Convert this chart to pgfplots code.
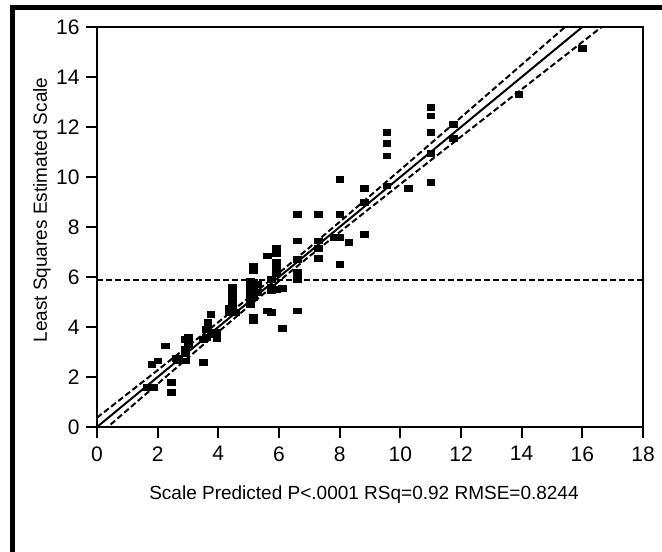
\documentclass[border=0pt]{standalone}
\usepackage{pgfplots}
\pgfplotsset{compat=1.18}
\usepackage{fontspec}
\setmainfont{Liberation Sans}

% Leverage plot: actual vs predicted scale, with fit line, 95% band and mean line
\pgfplotstableread{
x y
1.65 1.6
1.85 1.6
1.8 2.5
2.0 2.65
2.25 3.25
2.45 1.8
2.45 1.4
2.6 2.75
2.65 2.65
2.9 2.65
2.9 2.95
2.9 3.1
2.9 3.5
3.0 3.6
3.0 3.3
3.5 2.6
3.5 3.5
3.6 3.6
3.6 3.9
3.65 4.2
3.75 4.5
3.75 3.8
3.75 3.7
3.95 3.55
3.95 3.8
4.35 4.75
4.35 4.6
4.45 5.6
4.45 5.4
4.45 5.2
4.45 5.0
4.45 4.7
4.55 4.6
5.05 5.85
5.05 5.6
5.05 5.3
5.05 5.1
5.05 4.9
5.15 6.45
5.15 6.25
5.15 5.8
5.15 5.5
5.15 5.2
5.15 4.4
5.15 4.25
5.3 5.4
5.3 5.7
5.6 4.65
5.6 6.85
5.75 4.6
5.75 5.9
5.75 5.6
5.75 5.45
5.9 7.15
5.9 6.95
5.9 6.6
5.9 6.35
5.9 6.15
5.9 5.5
6.1 3.95
6.1 5.55
6.6 8.5
6.6 7.45
6.6 6.7
6.6 6.2
6.6 5.9
6.6 4.65
7.3 8.5
7.3 7.45
7.3 7.15
7.3 6.75
7.8 7.6
8.0 9.9
8.0 8.5
8.0 7.6
8.0 6.5
8.3 7.4
8.8 9.55
8.8 9.0
8.8 7.7
9.55 11.8
9.55 11.35
9.55 10.85
9.55 9.65
10.25 9.55
11.0 12.8
11.0 12.45
11.0 11.8
11.0 10.95
11.0 9.8
11.75 12.1
11.75 11.55
13.9 13.3
16.0 15.15
}\scaledata

\pgfplotstableread{
x upper lower
0 0.372 -0.372
1 1.322 0.678
2 2.274 1.726
3 3.231 2.769
4 4.195 3.805
5 5.171 4.829
6 6.164 5.836
7 7.176 6.824
8 8.204 7.796
9 9.243 8.757
10 10.287 9.713
11 11.336 10.664
12 12.386 11.614
13 13.439 12.561
14 14.492 13.508
15 15.546 14.454
16 16.601 15.399
17 17.656 16.344
}\bandtable

\begin{document}
\fontsize{19bp}{22bp}\selectfont
\begin{tikzpicture}
\useasboundingbox (0,0) rectangle (662bp,552bp);
% outer frame (left and top edges)
\draw[line width=4.5bp] (12.5bp,-5bp) -- (12.5bp,544.5bp) -- (670bp,544.5bp);
\begin{axis}[
  at={(97bp,125bp)}, anchor=south west,
  scale only axis, width=546bp, height=400bp,
  xmin=0, xmax=18, ymin=0, ymax=16,
  xtick={0,2,...,18}, ytick={0,2,...,16},
  xtick pos=bottom, ytick pos=left,
  tick align=outside, major tick length=11bp,
  axis line style={line width=2bp},
  every tick/.style={black, line width=2bp},
  tick label style={font=\fontsize{21bp}{24bp}\selectfont},
  xticklabel style={yshift=-2bp},
  /pgf/number format/assume math mode=true,
  clip=true,
]
\addplot[black, line width=2bp, dash pattern=on 6bp off 3bp] coordinates {(0,5.86) (18,5.86)};
\addplot[black, line width=2bp] coordinates {(0,0) (17,17)};
\addplot[black, line width=2bp, dash pattern=on 6bp off 3bp] table[x=x, y=upper] {\bandtable};
\addplot[black, line width=2bp, dash pattern=on 6bp off 3bp] table[x=x, y=lower] {\bandtable};
\addplot[only marks, mark=square*, mark size=3.5bp,
  mark options={black, xscale=1.1, yscale=0.8}] table[x=x, y=y] {\scaledata};
\end{axis}
\node[rotate=90] at (42bp,342bp) {Least Squares Estimated Scale};
\node at (364bp,57bp) {Scale Predicted P<.0001 RSq=0.92 RMSE=0.8244};
\end{tikzpicture}
\end{document}
